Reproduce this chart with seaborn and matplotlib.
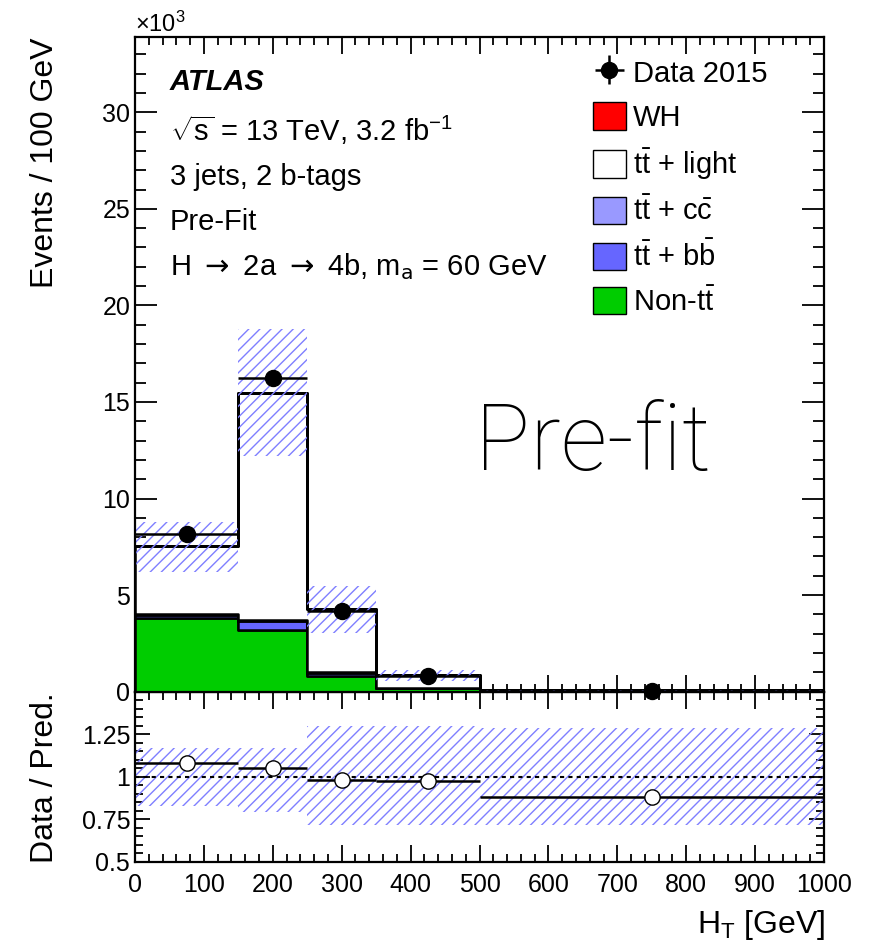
import numpy as np
import pandas as pd
import matplotlib
matplotlib.use("Agg")
import matplotlib.pyplot as plt
from matplotlib.patches import Patch
from matplotlib.ticker import MultipleLocator
import seaborn as sns

# Binning (GeV) and bin centres
edges = [0, 150, 250, 350, 500, 1000]
centers = [75, 200, 300, 425, 750]

# Stacked predictions, events / 100 GeV in units of 10^3
samples = ["WH", "ttlight", "ttcc", "ttbb", "nontt"]
wh = [0.0, 0.0, 0.0, 0.0, 0.0]
tt_light = [3.54, 11.75, 3.28, 0.65, 0.035]
tt_cc = [0.06, 0.07, 0.05, 0.01, 0.003]
tt_bb = [0.15, 0.45, 0.12, 0.03, 0.01]
non_tt = [3.80, 3.21, 0.83, 0.17, 0.02]

# Data 2015
data = [8.15, 16.25, 4.20, 0.83, 0.06]
data_err = [0.07, 0.13, 0.065, 0.03, 0.005]

# Pre-fit uncertainty band on total prediction
band_lo = [6.2, 12.2, 3.02, 0.57, 0.05]
band_hi = [8.8, 18.8, 5.49, 1.14, 0.09]

# Ratio panel
ratio = [1.08, 1.051, 0.982, 0.972, 0.88]
ratio_lo = [0.825, 0.79, 0.714, 0.714, 0.714]
ratio_hi = [1.17, 1.17, 1.296, 1.296, 1.287]

labels = {
    "WH": "WH",
    "ttlight": r"$\mathrm{t\bar{t}}$ + light",
    "ttcc": r"$\mathrm{t\bar{t}}$ + $\mathrm{c\bar{c}}$",
    "ttbb": r"$\mathrm{t\bar{t}}$ + $\mathrm{b\bar{b}}$",
    "nontt": r"Non-$\mathrm{t\bar{t}}$",
}
colors = {"WH": "#ff0000", "ttlight": "#ffffff", "ttcc": "#9999ff",
          "ttbb": "#6666ff", "nontt": "#00cc00"}

# long table for seaborn
values = {"WH": wh, "ttlight": tt_light, "ttcc": tt_cc, "ttbb": tt_bb, "nontt": non_tt}
rows = []
for s in samples:
    for c, v in zip(centers, values[s]):
        rows.append({"ht": c, "events": v, "sample": s})
df = pd.DataFrame(rows)

sns.set_style("ticks")
plt.rcParams["font.family"] = ["Liberation Sans", "DejaVu Sans"]
plt.rcParams["mathtext.fontset"] = "custom"
plt.rcParams["mathtext.rm"] = "Liberation Sans"
plt.rcParams["mathtext.it"] = "Liberation Sans:italic"
plt.rcParams["mathtext.bf"] = "Liberation Sans:bold"
plt.rcParams["hatch.linewidth"] = 1.0
for k in ["text.color", "axes.labelcolor", "axes.edgecolor", "xtick.color", "ytick.color"]:
    plt.rcParams[k] = "black"

fig = plt.figure(figsize=(8.7, 9.43), dpi=100)
rax = fig.add_axes([0.1552, 0.0862, 0.7919, 0.1803])
ax = fig.add_axes([0.1552, 0.2665, 0.7919, 0.6943])
ax.patch.set_visible(False)

widths = np.diff(edges)

# stacked histogram
sns.histplot(data=df, x="ht", weights="events", hue="sample", hue_order=samples,
             bins=edges, multiple="stack", element="step", fill=True, alpha=1,
             palette=colors, edgecolor="black", linewidth=1.8, legend=False, ax=ax)

# uncertainty band
ax.bar(edges[:-1], np.array(band_hi) - np.array(band_lo), width=widths, bottom=band_lo,
       align="edge", facecolor="none", edgecolor="#7f7fff", linewidth=0, hatch="///")

# data
dat = ax.errorbar(centers, data, xerr=widths / 2, yerr=data_err, fmt="o", color="black",
                  markersize=11.5, elinewidth=1.8, capsize=0, zorder=5, clip_on=False)

ax.set_xlim(0, 1000)
ax.set_ylim(0, 33.9)
ax.set_xlabel("")
ax.set_ylabel("")
ax.xaxis.set_major_locator(MultipleLocator(100))
ax.xaxis.set_minor_locator(MultipleLocator(20))
ax.yaxis.set_major_locator(MultipleLocator(5))
ax.yaxis.set_minor_locator(MultipleLocator(1))
ax.tick_params(axis="both", which="both", direction="in", top=True, right=True,
               labelsize=18, width=1.3)
ax.tick_params(axis="x", which="major", length=12, labelbottom=False)
ax.tick_params(axis="x", which="minor", length=6)
ax.tick_params(axis="y", which="major", length=16)
ax.tick_params(axis="y", which="minor", length=8)

# ratio panel
rax.bar(edges[:-1], np.array(ratio_hi) - np.array(ratio_lo), width=widths, bottom=ratio_lo,
        align="edge", facecolor="none", edgecolor="#7f7fff", linewidth=0, hatch="///")
rax.axhline(1.0, color="black", linestyle=(0, (2, 2)), linewidth=1.5)
rax.errorbar(centers, ratio, xerr=widths / 2, fmt="o", color="black", mfc="white",
             mec="black", markersize=11, elinewidth=1.8, capsize=0, zorder=5)
rax.set_xlim(0, 1000)
rax.set_ylim(0.5, 1.5)
rax.set_yticks([0.5, 0.75, 1.0, 1.25])
rax.set_yticklabels(["0.5", "0.75", "1", "1.25"])
rax.yaxis.set_minor_locator(MultipleLocator(0.05))
rax.xaxis.set_major_locator(MultipleLocator(100))
rax.xaxis.set_minor_locator(MultipleLocator(20))
rax.tick_params(axis="both", which="both", direction="in", top=True, right=True,
                labelsize=18, width=1.3)
rax.tick_params(axis="x", which="major", length=12, pad=8)
rax.tick_params(axis="x", which="minor", length=6)
rax.tick_params(axis="y", which="major", length=11)
rax.tick_params(axis="y", which="minor", length=6)

for a in (ax, rax):
    for sp in a.spines.values():
        sp.set_linewidth(1.6)

# axis titles
fig.text(45 / 870, 1 - 38 / 943, "Events / 100 GeV", rotation=90, ha="center", va="top",
         fontsize=23)
fig.text(45 / 870, 1 - 778 / 943, "Data / Pred.", rotation=90, ha="center", va="center",
         fontsize=23)
fig.text(825 / 870, 1 - 925 / 943, r"H$_{\mathrm{T}}$ [GeV]", ha="right", va="center",
         fontsize=23)
fig.text(135 / 870, 1 - 24 / 943, r"$\times$10$^{3}$", ha="left", va="center", fontsize=17)

# labels in upper left
tx = (170 - 135) / 689
def ypos(py):
    return (691.7 - py) / (691.7 - 37)
ax.text(tx, ypos(82), "ATLAS", transform=ax.transAxes, fontsize=21, fontweight="bold",
        fontstyle="italic", va="center")
ax.text(tx, ypos(130), r"$\sqrt{\mathrm{s}}$ = 13 TeV, 3.2 fb$^{\mathrm{-1}}$",
        transform=ax.transAxes, fontsize=21, va="center")
ax.text(tx, ypos(177), "3 jets, 2 b-tags", transform=ax.transAxes, fontsize=21, va="center")
ax.text(tx, ypos(222), "Pre-Fit", transform=ax.transAxes, fontsize=21, va="center")
ax.text(tx, ypos(267), r"H $\rightarrow$ 2a $\rightarrow$ 4b, m$_{\mathrm{a}}$ = 60 GeV",
        transform=ax.transAxes, fontsize=21, va="center", math_fontfamily="dejavusans")

ax.text((475 - 135) / 689, ypos(470), "Pre-fit", transform=ax.transAxes, fontsize=66,
        family=["Roboto", "Liberation Sans"], fontweight="light", va="baseline")

# legend
handles = [dat] + [Patch(facecolor=colors[s], edgecolor="black", linewidth=1.0)
                   for s in samples]
leg_labels = ["Data 2015"] + [labels[s] for s in samples]
ax.legend(handles, leg_labels, loc="upper left",
          bbox_to_anchor=((593 - 135) / 689, ypos(58)), frameon=False, fontsize=21,
          handlelength=1.12, handleheight=1.07, handletextpad=0.25, labelspacing=0.5,
          borderpad=0, borderaxespad=0)

fig.savefig("out.png", dpi=100)
